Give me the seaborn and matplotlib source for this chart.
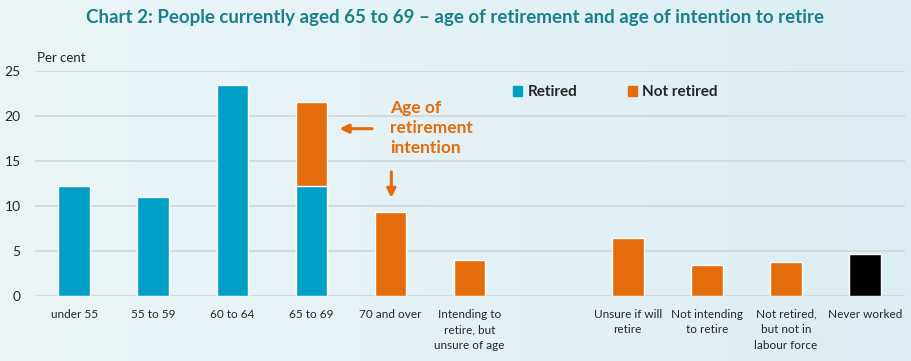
import numpy as np
import pandas as pd
import matplotlib
matplotlib.use("Agg")
import matplotlib.pyplot as plt
from matplotlib.patches import Patch
from matplotlib.colors import LinearSegmentedColormap
import seaborn as sns

categories = ["under 55", "55 to 59", "60 to 64", "65 to 69", "70 and over",
              "Intending to\nretire, but\nunsure of age", " ",
              "Unsure if will\nretire", "Not intending\nto retire",
              "Not retired,\nbut not in\nlabour force", "Never worked"]
retired = [12.25, 11.0, 23.5, 12.25, 0, 0, 0, 0, 0, 0, 0]
not_retired = [0, 0, 0, 9.35, 9.3, 4.0, 0, 6.4, 3.45, 3.8, 0]
never_worked = [0, 0, 0, 0, 0, 0, 0, 0, 0, 0, 4.65]

BLUE = "#00a0c6"
ORANGE = "#e46c0a"
TEAL = "#1b7f8c"

df = pd.DataFrame({"cat": categories, "retired": retired,
                   "not_retired": not_retired, "never": never_worked})
df["total"] = df["retired"] + df["not_retired"]
df = df.replace(0, np.nan)  # no zero-height bars

sns.set_style("white")
plt.rcParams["font.family"] = ["Lato", "DejaVu Sans"]

fig = plt.figure(figsize=(9.11, 3.61), dpi=100)

# soft left-to-right background gradient
bg = fig.add_axes([0, 0, 1, 1], zorder=-10)
grad = LinearSegmentedColormap.from_list("bg", ["#ebf5f8", "#dceef3"])
bg.imshow(np.linspace(0, 1, 256).reshape(1, -1), cmap=grad, aspect="auto",
          extent=[0, 1, 0, 1])
bg.set_axis_off()

ax = fig.add_axes([0.038, 0.18, 0.955, 0.623])
ax.set_facecolor("none")

# stacked: full height in orange, retired part over it in blue
sns.barplot(data=df, x="cat", y="total", order=categories, color=ORANGE,
            width=0.4, saturation=1, errorbar=None, ax=ax, zorder=3)
sns.barplot(data=df, x="cat", y="retired", order=categories, color=BLUE,
            width=0.4, saturation=1, errorbar=None, ax=ax, zorder=4)
sns.barplot(data=df, x="cat", y="never", order=categories, color="black",
            width=0.4, saturation=1, errorbar=None, ax=ax, zorder=4)

ax.set_ylim(0, 25)
ax.set_xlim(-0.5, 10.5)
ax.set_yticks(range(0, 26, 5))
for yv in range(0, 26, 5):
    ax.axhline(yv, color="#d2d8db", linewidth=1.3, zorder=1)
sns.despine(ax=ax, left=True, bottom=True)
ax.tick_params(axis="both", length=0)
ax.tick_params(axis="x", labelsize=8.5, pad=9)
ax.tick_params(axis="y", labelsize=10, pad=10)
for lbl in ax.get_xticklabels():
    lbl.set_linespacing(1.5)
    lbl.set_va("top")
ax.set_xlabel("")
ax.set_ylabel("")

fig.text(0.5, 0.952, "Chart 2: People currently aged 65 to 69 \u2013 age of retirement and age of intention to retire",
         ha="center", va="center", fontsize=13.5, fontweight="bold", color=TEAL)
fig.text(0.041, 0.84, "Per cent", ha="left", va="center", fontsize=9.5, color="#222222")

handles = [Patch(color=BLUE, label="Retired"), Patch(color=ORANGE, label="Not retired")]
fig.legend(handles=handles, loc="center left", bbox_to_anchor=(0.548, 0.745),
           ncol=2, frameon=False, handlelength=0.6, handleheight=0.6,
           handletextpad=0.35, columnspacing=3.3,
           prop={"weight": "bold", "size": 11})

ax.text(3.99, 21.75, "Age of\nretirement\nintention", ha="left", va="top",
        fontsize=12.5, fontweight="bold", color=ORANGE, linespacing=1.3)
ax.annotate("", xy=(3.32, 18.6), xytext=(3.8, 18.6),
            arrowprops=dict(arrowstyle="-|>", color=ORANGE, lw=2.2, mutation_scale=13))
ax.annotate("", xy=(4.01, 10.6), xytext=(4.01, 14.1),
            arrowprops=dict(arrowstyle="-|>", color=ORANGE, lw=2.2, mutation_scale=13))

fig.savefig("out.png", dpi=100)
